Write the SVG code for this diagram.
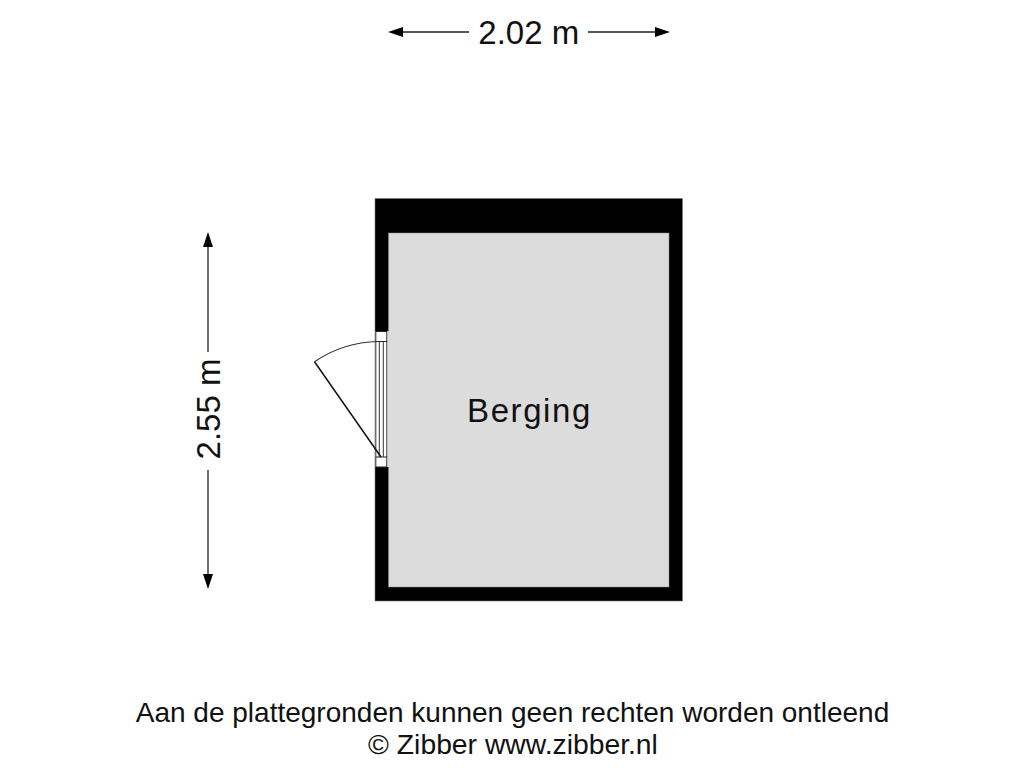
<svg xmlns="http://www.w3.org/2000/svg" width="1024" height="768" viewBox="0 0 1024 768">
<style>
text{font-family:"Liberation Sans",Arial,sans-serif;fill:#111}
.dim{stroke:#222;stroke-width:1.3;fill:none}
.head{fill:#000}
.thin{stroke:#333;stroke-width:1;fill:none}
.leaf{stroke:#111;stroke-width:1.5;fill:none}
</style>
<rect width="1024" height="768" fill="#fff"/>
<g id="room">
<path d="M375 198.500H682.500V601H375Z" fill="#000" stroke="#777" stroke-width=".6"/>
<rect x="388.500" y="233" width="280.500" height="354" fill="#dcdcdc" stroke="#888" stroke-width=".5"/>
<text x="529.500" y="422" font-size="33" letter-spacing="1.6" text-anchor="middle">Berging</text>
</g>
<g id="door">
<rect x="375" y="331" width="13.500" height="136" fill="#fff"/>
<rect x="388" y="331" width="1" height="136" fill="#dcdcdc"/>
<rect x="375.800" y="331.500" width="11" height="10" fill="#fff" stroke="#222" stroke-width="1"/>
<rect x="375.800" y="457" width="11" height="10" fill="#fff" stroke="#222" stroke-width="1"/>
<path class="thin" d="M375.800 341.500V457M379.300 341.500V457M383.300 341.500V457M386.800 341.500V457"/>
<path class="leaf" d="M381 457L314.500 361.800"/>
<path d="M314.500 361.800A116 116 0 0 1 378 341.500" fill="none" stroke="#333" stroke-width="1.200"/>
</g>
<g id="connectors">
<path class="dim" d="M398 32H469M588 32H660M208 243V352M208 470V578"/>
<path class="head" d="M388 32L403 27V37ZM670 32L655 27V37ZM208 232L203 247H213ZM208 589L203 574H213Z"/>
</g>
<g id="labels">
<text x="528.800" y="44" font-size="33" text-anchor="middle">2.02 m</text>
<text transform="translate(219.500 409) rotate(-90)" font-size="33" text-anchor="middle">2.55 m</text>
<text x="512.500" y="722" font-size="28" text-anchor="middle">Aan de plattegronden kunnen geen rechten worden ontleend</text>
<text x="513" y="754" font-size="28.300" text-anchor="middle">© Zibber www.zibber.nl</text>
</g>
</svg>
